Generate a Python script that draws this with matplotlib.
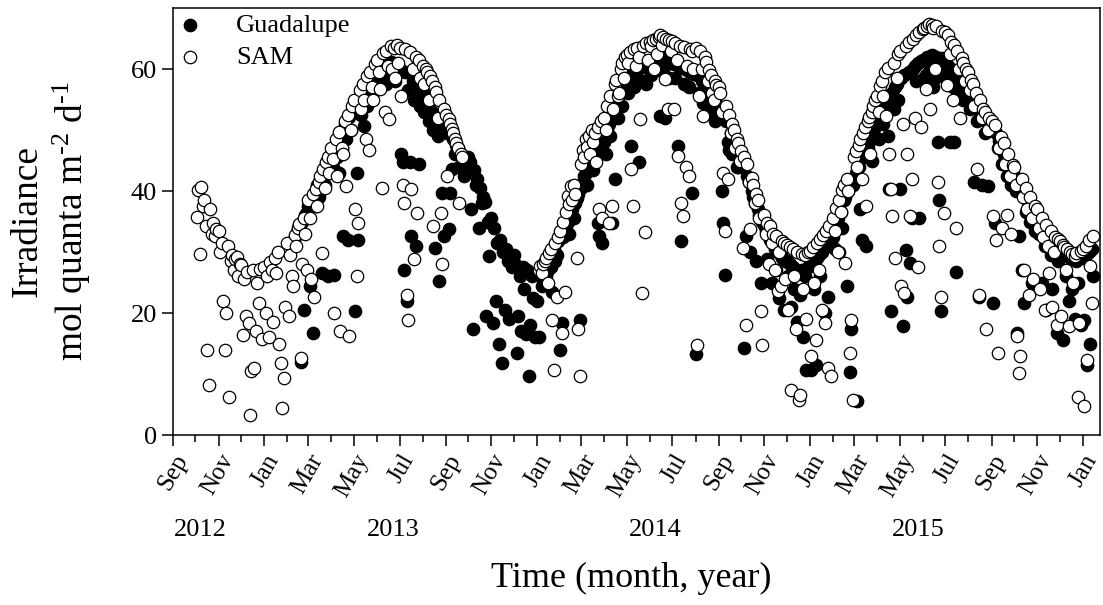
import numpy as np
import pandas as pd
import matplotlib
matplotlib.use("Agg")
import matplotlib.pyplot as plt
import matplotlib.dates as mdates

plt.rcParams['font.family'] = ['Liberation Serif', 'DejaVu Serif']
plt.rcParams['mathtext.fontset'] = 'custom'
plt.rcParams['mathtext.rm'] = 'Liberation Serif'
plt.rcParams['mathtext.it'] = 'Liberation Serif:italic'

# Daily irradiance (mol quanta m-2 d-1), one row per month,
# samples taken every second day starting on the 1st.
SAMPLE_STEP_DAYS = 2

sam_first_start = "2012-10-01"
sam_first = [
    [None, 35.8, 40.2, 29.6, 40.6, 37.5, 38.5, 34.2, 14.0, 8.2, 37.0, 33.0, 34.8, 32.6, 33.8],
    [33.5, 30.0, 31.5, 21.9, 14.0, 20.0, 31.0, 6.3, 28.5, 29.5, 27.0, 28.8, 29.2, 26.0, 28.0],
    [27.8, 16.4, 25.5, 19.5, 26.8, 18.4, 3.3, 10.5, 27.0, 11.0, 17.0, 25.0, 21.6, 27.2, 15.8],
    [27.6, 20.0, 26.0, 16.0, 28.3, 27.0, 18.5, 29.0, 26.5, 30.0, 15.0, 11.8, 4.4, 9.3, 21.0],
    [31.5, 19.5, 29.5, 26.0, 24.4, 32.8, 31.0, 34.0, 34.6, 12.6, 28.0, 35.5, 33.0, 27.0, None],
    [38.5, 35.5, 25.5, 39.5, 22.7, 40.4, 37.5, 41.5, 42.5, 29.9, 43.6, 40.5, 44.8, 45.5, 43.0],
    [47.0, 45.2, 20.0, 48.5, 42.5, 49.6, 17.0, 47.0, 46.0, 51.5, 40.8, 52.4, 16.2, 50.0, 54.0],
    [55.0, 37.0, 26.0, 34.8, 56.5, 53.4, 57.5, 55.0, 48.5, 58.8, 46.8, 59.5, 57.0, 55.0, 60.8],
    [61.5, 59.5, 56.7, 40.5, 62.6, 52.9, 63.0, 60.5, 51.8, 63.8, 60.0, 63.5, 58.5, 64.0, 61.0],
    [63.5, 55.6, 41.0, 38.0, 63.2, 23.0, 18.9, 62.8, 40.3, 60.0, 28.8, 62.0, 36.4, 61.5, 58.5],
    [60.5, 57.5, 60.0, 59.5, 55.0, 58.8, 58.0, 34.2, 57.0, 56.2, 52.0, 55.0, 36.4, 28.0, 53.5],
    [52.5, 42.5, 51.8, 51.0, 50.2, 49.5, 48.6, 47.8, 47.0, 38.0, 46.0, 45.5, None, None, None],
]

sam_second_start = "2014-01-01"
sam_second = [
    [None, 27.0, 27.7, 26.6, 28.0, 28.5, 29.0, 25.0, 29.8, 30.5, 18.9, 10.7, 31.5, 22.7, 32.5],
    [33.5, 16.7, 35.0, 23.5, 36.5, 39.2, 37.8, 40.8, 38.5, 41.0, 39.5, 29.0, 17.3, 9.6, None],
    [44.5, 46.8, 45.5, 48.5, 47.2, 49.0, 46.0, 50.0, 48.0, 49.5, 44.7, 50.5, 37.0, 51.5, 35.5],
    [52.0, 50.0, 54.0, 34.8, 55.5, 37.5, 53.5, 57.5, 58.2, 55.5, 56.0, 60.0, 61.0, 58.5, 62.0],
    [62.3, 61.0, 62.8, 43.6, 37.5, 63.2, 60.5, 63.5, 62.0, 51.8, 23.3, 63.8, 33.2, 64.2, 61.5],
    [64.5, 63.8, 64.8, 60.0, 65.0, 62.5, 65.3, 65.5, 64.0, 65.2, 58.4, 65.0, 53.5, 64.8, 63.0],
    [64.6, 53.4, 64.3, 61.5, 45.8, 63.8, 38.0, 35.9, 63.6, 44.0, 60.5, 42.5, 63.2, 63.0, 60.0],
    [63.5, 14.8, 55.6, 63.0, 60.0, 52.3, 62.0, 61.2, 58.0, 59.8, 59.0, 56.0, 55.0, 58.0, 57.3],
    [57.0, 56.0, 53.0, 43.0, 33.4, 54.0, 42.0, 52.5, 49.5, 51.0, 50.0, 47.0, 48.5, 47.8, 45.0],
    [46.5, 30.7, 45.5, 18.1, 44.5, 41.5, 33.7, 42.2, 41.0, 38.0, 39.5, 38.6, 35.5, 20.3, 14.8],
    [36.0, 33.0, 34.8, 28.0, 34.2, 31.5, 33.0, 27.0, 32.6, 23.6, 30.0, 24.5, 31.8, 31.5, 25.5],
    [31.2, 20.5, 30.8, 7.4, 30.5, 26.0, 17.3, 30.0, 5.8, 6.5, 29.6, 24.0, 29.5, 19.0, 30.0],
    [30.2, 12.9, 30.8, 25.0, 15.6, 31.5, 27.0, 32.2, 20.5, 32.8, 18.4, 33.5, 11.0, 34.2, 9.6],
    [35.5, 33.5, 37.2, 30.0, 38.5, 36.5, 40.2, 41.0, 28.2, 42.0, 40.0, 13.4, 18.9, 5.8, None],
    [45.5, 46.5, 44.0, 47.5, 48.5, 42.0, 49.5, 50.5, 37.5, 51.5, 52.2, 46.0, 53.0, 54.0, 55.0],
    [55.5, 53.0, 57.2, 58.0, 55.5, 59.5, 52.3, 60.2, 46.0, 40.3, 35.9, 61.0, 29.0, 58.5, 62.5],
    [63.0, 24.4, 51.0, 23.3, 63.8, 46.0, 64.5, 35.9, 42.0, 65.0, 52.0, 65.5, 27.5, 66.0, 50.5],
    [66.5, 66.8, 56.7, 67.0, 67.4, 53.4, 67.2, 66.8, 60.0, 67.0, 41.4, 31.0, 22.7, 66.2, 36.4],
    [66.0, 57.3, 65.5, 62.5, 64.5, 55.0, 64.0, 34.0, 63.0, 60.0, 52.0, 61.8, 61.0, 58.0, 60.0],
    [59.5, 56.5, 58.2, 57.5, 54.0, 56.0, 43.6, 23.0, 55.0, 52.0, 53.5, 53.0, 17.3, 50.0, 52.0],
    [51.5, 35.9, 50.8, 32.0, 13.4, 47.0, 48.8, 34.0, 47.8, 44.5, 36.0, 46.0, 42.5, 33.0, 44.2],
    [44.0, 41.0, 16.2, 10.1, 13.0, 42.0, 39.0, 27.0, 40.5, 37.0, 23.0, 39.0, 35.5, 25.5, 37.5],
    [37.0, 34.0, 24.0, 35.5, 32.5, 20.5, 34.5, 31.0, 26.5, 33.5, 21.0, 30.0, 32.5, 18.0, 32.2],
    [31.8, 19.5, 31.2, 30.8, 27.0, 30.5, 17.8, 30.0, 29.6, 25.0, 29.4, 29.8, 6.3, 18.4, 30.2],
    [30.5, 4.7, 31.0, 12.3, 32.0, 27.7, 21.6, 32.6],
]

guad_start = "2013-02-01"
guad = [
    [None, None, None, None, 31.5, 32.5, 33.0, 33.8, 34.5, 12.0, 35.0, 20.5, 36.0, 36.5, None],
    [37.5, 24.4, 38.5, 16.7, 39.5, 37.5, 41.0, 39.0, 42.0, 26.5, 43.0, 41.0, 44.5, 26.0, 45.5],
    [46.0, 44.0, 26.2, 47.8, 45.5, 43.0, 49.5, 47.0, 32.6, 51.0, 48.5, 32.0, 52.2, 50.0, 53.3],
    [54.0, 20.3, 43.0, 32.0, 55.0, 52.5, 56.2, 50.7, 56.8, 54.0, 57.8, 55.5, 58.6, 56.0, 59.3],
    [59.5, 57.0, 58.0, 60.3, 57.5, 60.8, 57.5, 61.0, 58.5, 61.2, 59.0, 61.0, 58.0, 60.6, 60.4],
    [60.0, 46.0, 44.7, 27.0, 59.5, 22.0, 56.5, 44.7, 32.6, 58.0, 55.0, 31.0, 57.0, 44.5, 54.0],
    [56.0, 53.0, 55.0, 54.5, 51.5, 53.5, 53.0, 50.0, 30.7, 52.0, 49.0, 25.2, 51.0, 39.7, 32.6],
    [50.0, 49.5, 33.7, 39.7, 43.6, 48.5, 46.0, 47.5, 47.0, 44.0, 46.0, 45.5, 42.5, 44.5, 44.0],
    [45.5, 44.8, 37.0, 17.3, 43.5, 41.0, 42.0, 34.0, 40.5, 38.0, 39.0, 38.2, 19.5, 35.0, 29.3],
    [35.5, 18.4, 34.0, 22.0, 31.5, 15.0, 32.0, 11.8, 30.0, 20.5, 30.5, 28.5, 19.0, 29.5, 27.5],
    [29.5, 28.0, 13.4, 19.5, 26.0, 17.0, 27.5, 24.0, 16.5, 27.0, 9.6, 18.0, 26.0, 22.5, 16.0],
    [22.0, 16.0, 26.5, 24.5, 25.5, 28.0, 26.0, 27.0, 29.2, 27.5, 23.5, 30.6, 28.5, 29.5, 31.8],
    [14.0, 18.4, 32.5, 33.5, 34.2, 35.0, 33.0, 36.2, 37.0, 35.5, 38.0, 38.8, 39.5, 18.9, None],
    [40.5, 41.5, 42.5, 43.0, 41.0, 44.0, 44.8, 45.5, 43.5, 46.0, 46.5, 34.8, 32.6, 47.0, 31.5],
    [48.0, 46.0, 50.0, 51.0, 49.0, 34.8, 53.0, 42.0, 54.0, 52.0, 55.8, 56.5, 54.0, 57.5, 58.0],
    [58.2, 56.0, 58.8, 47.4, 59.2, 57.0, 59.6, 60.0, 44.7, 60.2, 58.0, 60.5, 60.8, 57.5, 61.0],
    [61.0, 59.0, 61.2, 61.5, 60.0, 61.6, 61.8, 52.3, 61.8, 59.5, 52.0, 61.5, 61.3, 58.5, 61.0],
    [61.0, 60.8, 58.5, 60.6, 47.4, 60.4, 31.8, 60.2, 57.5, 60.0, 59.8, 57.0, 59.5, 39.7, 59.2],
    [13.2, 59.0, 56.0, 56.0, 58.0, 54.5, 57.0, 54.5, 56.5, 53.0, 55.5, 53.0, 55.0, 51.5, 54.0],
    [54.0, 53.2, 40.0, 34.8, 26.3, 51.5, 48.0, 46.8, 49.5, 46.0, 48.0, 47.2, 44.0, 44.0, 45.8],
    [45.0, 44.0, 14.2, 32.6, 42.5, 41.5, 30.0, 40.0, 39.0, 38.0, 28.5, 37.0, 36.0, 24.9, 35.0],
    [34.5, 33.5, 28.8, 33.0, 32.0, 25.0, 31.5, 30.5, 27.0, 30.0, 22.5, 29.5, 29.0, 20.5, 28.5],
    [28.5, 26.0, 28.0, 21.0, 27.5, 24.0, 27.0, 18.5, 26.5, 23.0, 27.0, 16.0, 26.0, 10.7, 27.5],
    [28.0, 10.7, 28.5, 24.0, 11.5, 29.0, 29.5, 26.0, 30.0, 30.5, 20.0, 31.0, 22.7, 31.5, 32.0],
    [32.5, 30.5, 34.5, 35.5, 30.0, 36.5, 34.0, 38.5, 39.0, 24.4, 40.0, 10.4, 17.3, 41.0, None],
    [42.0, 43.0, 5.5, 44.0, 37.0, 32.0, 45.5, 46.0, 31.0, 47.0, 48.0, 48.5, 45.0, 49.5, 50.5],
    [51.0, 48.5, 52.8, 53.5, 51.0, 54.8, 55.5, 49.0, 40.3, 20.3, 56.0, 53.5, 57.0, 57.5, 55.0],
    [40.3, 58.5, 17.8, 59.0, 30.4, 22.7, 59.5, 28.2, 35.6, 60.0, 60.5, 58.0, 61.0, 35.6, 61.3],
    [61.5, 58.5, 59.0, 62.0, 59.5, 60.0, 62.3, 57.0, 58.5, 62.0, 48.0, 38.6, 20.3, 61.8, 59.0],
    [61.2, 58.0, 60.5, 48.0, 60.0, 57.0, 48.0, 26.8, 59.0, 56.0, 58.0, 57.8, 55.0, 57.2, 57.0],
    [56.5, 53.5, 55.5, 55.0, 41.4, 54.5, 51.5, 22.7, 53.0, 41.0, 52.5, 49.5, 51.5, 40.8, 51.0],
    [50.5, 21.6, 34.8, 49.5, 47.0, 48.2, 47.5, 44.5, 46.0, 45.5, 42.5, 44.5, 44.0, 41.0, 43.0],
    [42.5, 40.0, 16.7, 32.6, 41.0, 27.0, 40.0, 21.6, 36.5, 38.5, 38.0, 35.0, 25.0, 36.5, 33.5],
    [35.5, 33.0, 34.5, 25.0, 34.0, 31.0, 20.5, 33.0, 32.5, 29.5, 24.0, 32.0, 31.8, 16.7, 28.5],
    [31.0, 30.5, 15.6, 30.0, 26.0, 29.5, 22.0, 29.0, 24.0, 28.8, 19.0, 28.5, 25.0, 29.0, 18.0],
    [29.0, 18.9, 29.5, 11.5, 30.0, 15.0, 30.5, 26.0],
]

year_labels = ["2012", "2013", "2014", "2015"]


def expand(start, rows):
    """Turn monthly rows of every-other-day samples into dated points."""
    months = pd.date_range(start, periods=len(rows), freq="MS")
    dates, vals = [], []
    for month, row in zip(months, rows):
        for i, v in enumerate(row):
            if v is None:
                continue
            dates.append(month + pd.Timedelta(days=SAMPLE_STEP_DAYS * i))
            vals.append(v)
    return pd.DatetimeIndex(dates), np.array(vals, dtype=float)


g_dates, g_vals = expand(guad_start, guad)
s1_dates, s1_vals = expand(sam_first_start, sam_first)
s2_dates, s2_vals = expand(sam_second_start, sam_second)
s_dates = s1_dates.append(s2_dates)
s_vals = np.concatenate([s1_vals, s2_vals])

W, H = 1103, 605
fig = plt.figure(figsize=(W / 100, H / 100), dpi=100)
ax = fig.add_axes([173 / W, 1 - 435 / H, (1100 - 173) / W, (435 - 8) / H])

msize = 80
ax.scatter(g_dates, g_vals, s=msize, facecolors="black", edgecolors="black",
           linewidths=0.9, label="Guadalupe", zorder=2)
ax.scatter(s_dates, s_vals, s=msize, facecolors="white", edgecolors="black",
           linewidths=0.9, label="SAM", zorder=3)

ax.set_xlim(pd.Timestamp("2012-09-01"), pd.Timestamp("2016-01-24"))
ax.set_ylim(0, 70)
ax.set_yticks([0, 20, 40, 60])

ax.xaxis.set_major_locator(mdates.MonthLocator(bymonth=[1, 3, 5, 7, 9, 11]))
ax.xaxis.set_minor_locator(mdates.MonthLocator())
ax.xaxis.set_major_formatter(mdates.DateFormatter("%b"))

for s in ax.spines.values():
    s.set_linewidth(1.1)
ax.tick_params(axis="both", which="major", direction="out", length=8,
               width=1.1, labelsize=19)
ax.tick_params(axis="x", which="minor", direction="out", length=5, width=1.1)
ax.tick_params(axis="x", which="major", labelsize=18, pad=3)
for lbl in ax.get_xticklabels():
    lbl.set_rotation(60)
    lbl.set_ha("right")
    lbl.set_rotation_mode("anchor")

leg = ax.legend(loc="upper left", frameon=False, fontsize=19,
                borderaxespad=0.1, borderpad=0.1, handlelength=0.9,
                handletextpad=1.3, labelspacing=0.33, scatterpoints=1)

year_x = [200, 393, 655, 918]
for txt, px in zip(year_labels, year_x):
    fig.text(px / W, 1 - 530 / H, txt, ha="center", va="center", fontsize=19)

fig.text(631 / W, 1 - 578 / H, "Time (month, year)", ha="center",
         va="center", fontsize=26)
fig.text(27 / W, 0.634, "Irradiance", rotation=90, ha="center",
         va="center", fontsize=27)
fig.text(72 / W, 0.634, r"mol quanta m$^{\text{-}2}$ d$^{\text{-}1}$",
         rotation=90, ha="center", va="center", fontsize=27)

fig.savefig("out.png", dpi=100)
